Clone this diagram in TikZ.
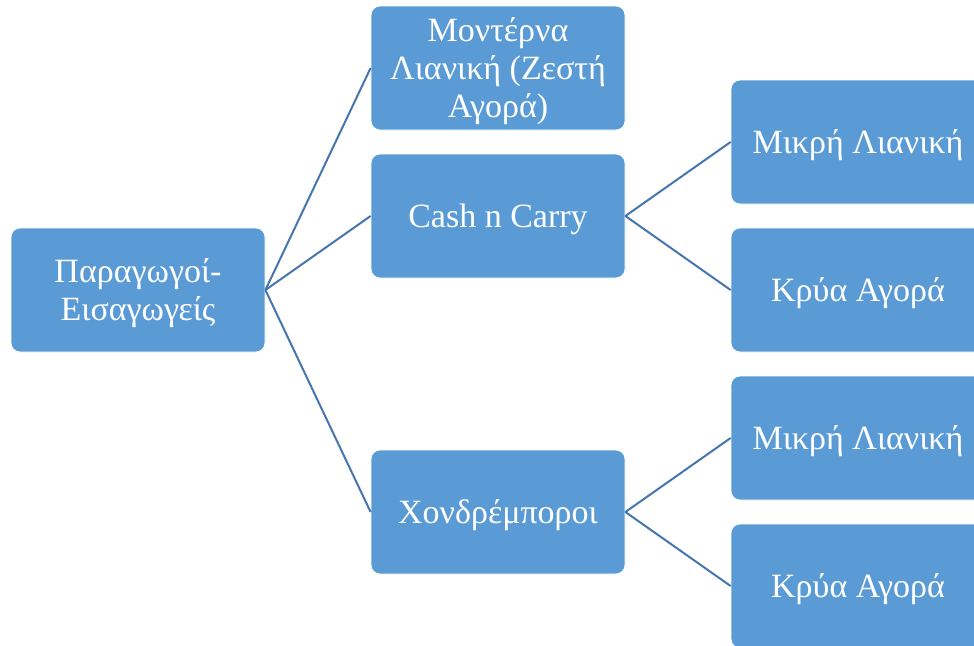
\documentclass[tikz,border=0pt]{standalone}
\usepackage{fontspec}
\setmainfont{Liberation Serif}
\definecolor{boxfill}{HTML}{5B9BD5}
\definecolor{linecol}{HTML}{4676AD}
\begin{document}
\begin{tikzpicture}[x=1pt,y=-1pt,
  box/.style={draw=white, line width=0.8pt, fill=boxfill, rounded corners=9pt,
    minimum width=254pt, minimum height=124pt, inner sep=0pt,
    label={[boxtext]center:#1}},
  boxtext/.style={text=white, align=center, inner sep=0pt, yshift=-3.5pt,
    font=\fontsize{34}{38}\selectfont},
  conn/.style={draw=linecol, line width=2pt}]
\useasboundingbox (0,0) rectangle (974,645);
\clip (0,0) rectangle (974,645);
\fill[white] (0,0) rectangle (974,645);
\node[box={Παραγωγοί-\\Εισαγωγείς}] (root) at (138,290) {};
\node[box={Μοντέρνα\\Λιανική (Ζεστή\\Αγορά)}] (mod) at (498,68) {};
\node[box={Cash n Carry}] (cash) at (498,216) {};
\node[box={Χονδρέμποροι}] (xon) at (498,512) {};
\node[box={Μικρή Λιανική}] (r1) at (858,142) {};
\node[box={Κρύα Αγορά}] (r2) at (858,290) {};
\node[box={Μικρή Λιανική}] (r3) at (858,438) {};
\node[box={Κρύα Αγορά}] (r4) at (858,586) {};
\draw[conn] (root.east) -- (mod.west);
\draw[conn] (root.east) -- (cash.west);
\draw[conn] (root.east) -- (xon.west);
\draw[conn] (cash.east) -- (r1.west);
\draw[conn] (cash.east) -- (r2.west);
\draw[conn] (xon.east) -- (r3.west);
\draw[conn] (xon.east) -- (r4.west);
\end{tikzpicture}
\end{document}
